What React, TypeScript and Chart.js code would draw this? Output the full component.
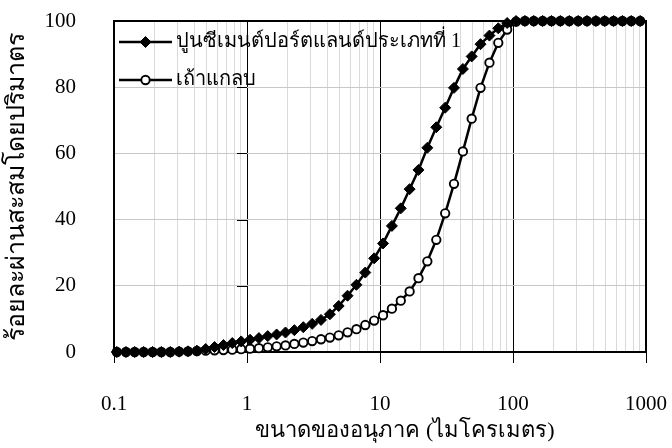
import React, { useEffect, useRef } from "react";
import { Chart, registerables } from "chart.js";

Chart.register(...registerables);

// particle sizes (µm)
const sizes = [
  0.105, 0.123, 0.143, 0.167, 0.195, 0.227, 0.265, 0.309, 0.36, 0.42,
  0.489, 0.57, 0.665, 0.775, 0.904, 1.054, 1.229, 1.433, 1.67, 1.947,
  2.27, 2.65, 3.09, 3.6, 4.2, 4.89, 5.7, 6.65, 7.75, 9.04,
  10.54, 12.29, 14.33, 16.7, 19.47, 22.7, 26.5, 30.9, 36.0, 42.0,
  48.9, 57.0, 66.5, 77.5, 90.4, 105.4, 122.9, 143.3, 167.0, 194.7,
  227, 265, 309, 360, 420, 489, 570, 665, 775, 904,
];

// cumulative % passing — Portland cement type 1
const cement = [
  0, 0, 0, 0, 0, 0, 0, 0.1, 0.2, 0.4,
  0.9, 1.5, 2.1, 2.7, 3.2, 3.7, 4.2, 4.8, 5.3, 5.9,
  6.6, 7.5, 8.5, 9.7, 11.4, 13.9, 17.0, 20.3, 24.0, 28.3,
  32.8, 38.1, 43.4, 49.2, 55.0, 61.7, 67.9, 73.8, 79.8, 85.5,
  89.3, 93.0, 95.6, 97.8, 99.4, 100, 100, 100, 100, 100,
  100, 100, 100, 100, 100, 100, 100, 100, 100, 100,
];

// cumulative % passing — rice husk ash
const ash = [
  0, 0, 0, 0, 0, 0, 0, 0.1, 0.2, 0.3,
  0.4, 0.5, 0.6, 0.7, 0.85, 1.0, 1.15, 1.4, 1.7, 2.0,
  2.45, 2.85, 3.3, 3.85, 4.35, 5.05, 5.95, 6.9, 8.15, 9.5,
  11.1, 13.1, 15.5, 18.3, 22.3, 27.4, 33.9, 41.9, 50.8, 60.6,
  70.5, 79.8, 87.4, 93.4, 97.4, 99.8, 100, 100, 100, 100,
  100, 100, 100, 100, 100, 100, 100, 100, 100, 100,
];

const seriesNames = ["ปูนซีเมนต์ปอร์ตแลนด์ประเภทที่ 1", "เถ้าแกลบ"];
const xDecades = [0.1, 1, 10, 100, 1000];
const yTickValues = [0, 20, 40, 60, 80, 100];
const xTitle = "ขนาดของอนุภาค (ไมโครเมตร)";
const yTitle = "ร้อยละผ่านสะสมโดยปริมาตร";

const FONT = "'Liberation Serif', 'Times New Roman', serif";

const isDecade = (v: number) => {
  const l = Math.log10(v);
  return Math.abs(l - Math.round(l)) < 1e-6;
};

const zeroPad = (s: any) => {
  s.paddingTop = 0;
  s.paddingBottom = 0;
  s.paddingLeft = 0;
  s.paddingRight = 0;
};

const frame = {
  id: "frame",
  beforeDatasetsDraw(chart: any) {
    const { ctx, chartArea: a, scales } = chart;
    ctx.save();
    // y-axis ticks crossing at x = 1
    const xc = scales.x.getPixelForValue(1);
    ctx.strokeStyle = "#000";
    ctx.lineWidth = 1;
    for (const v of yTickValues) {
      const y = Math.round(scales.y.getPixelForValue(v)) + 0.5;
      ctx.beginPath();
      ctx.moveTo(xc - 10, y);
      ctx.lineTo(xc, y);
      ctx.stroke();
    }
    ctx.lineWidth = 2;
    ctx.strokeRect(a.left, a.top, a.right - a.left, a.bottom - a.top);
    ctx.restore();
  },
  afterDatasetsDraw(chart: any) {
    const { ctx, chartArea: a } = chart;
    ctx.save();
    const x0 = a.left + 5;
    const x1 = a.left + 58;
    const xm = (x0 + x1) / 2;
    const rows = [a.top + 21, a.top + 59];
    chart.data.datasets.forEach((ds: any, i: number) => {
      const y = rows[i];
      ctx.strokeStyle = "#000";
      ctx.lineWidth = 2.5;
      ctx.beginPath();
      ctx.moveTo(x0, y);
      ctx.lineTo(x1, y);
      ctx.stroke();
      ctx.lineWidth = ds.pointBorderWidth;
      ctx.fillStyle = ds.pointBackgroundColor;
      ctx.beginPath();
      const r = ds.pointRadius;
      if (ds.pointStyle === "rectRot") {
        ctx.moveTo(xm, y - r);
        ctx.lineTo(xm + r, y);
        ctx.lineTo(xm, y + r);
        ctx.lineTo(xm - r, y);
        ctx.closePath();
      } else {
        ctx.arc(xm, y, r, 0, Math.PI * 2);
      }
      ctx.fill();
      ctx.stroke();
      ctx.fillStyle = "#000";
      ctx.font = `20px ${FONT}`;
      ctx.textBaseline = "middle";
      ctx.textAlign = "left";
      ctx.fillText(ds.label, x1 + 4, y);
    });
    // x-axis title
    ctx.font = `22px ${FONT}`;
    ctx.textAlign = "center";
    ctx.textBaseline = "middle";
    ctx.fillText(xTitle, (a.left + a.right) / 2 + 25, chart.height - 17);
    ctx.restore();
  },
};

export default function App() {
  const ref = useRef<HTMLCanvasElement | null>(null);
  useEffect(() => {
    document.body.style.margin = "0";
    if (!ref.current) return;
    const toPts = (ys: number[]) => sizes.map((x, i) => ({ x, y: ys[i] }));
    const chart = new Chart(ref.current, {
      type: "line",
      data: {
        datasets: [
          {
            label: seriesNames[0],
            data: toPts(cement),
            borderColor: "#000",
            borderWidth: 2.5,
            pointStyle: "rectRot",
            pointRadius: 5.5,
            pointBackgroundColor: "#000",
            pointBorderColor: "#000",
            pointBorderWidth: 1,
            tension: 0,
            clip: false,
          } as any,
          {
            label: seriesNames[1],
            data: toPts(ash),
            borderColor: "#000",
            borderWidth: 2.5,
            pointStyle: "circle",
            pointRadius: 4.2,
            pointBackgroundColor: "#fff",
            pointBorderColor: "#000",
            pointBorderWidth: 1.9,
            tension: 0,
            clip: false,
          } as any,
        ],
      },
      options: {
        animation: false,
        responsive: false,
        devicePixelRatio: 1,
        layout: { padding: { top: 21, right: 26, left: 0, bottom: 0 } },
        plugins: { legend: { display: false }, tooltip: { enabled: false } },
        scales: {
          x: {
            type: "logarithmic",
            min: 0.1,
            max: 1000,
            afterBuildTicks: (s: any) => {
              const t: any[] = [];
              for (let d = 0; d < xDecades.length - 1; d++) {
                for (let m = 1; m <= 9; m++) t.push({ value: +(xDecades[d] * m).toPrecision(6) });
              }
              t.push({ value: xDecades[xDecades.length - 1] });
              s.ticks = t;
            },
            afterFit: (s: any) => {
              s.height = 96;
              zeroPad(s);
            },
            ticks: {
              autoSkip: false,
              maxRotation: 0,
              padding: 29,
              color: "#000",
              font: { family: FONT, size: 21 },
              callback: (v: any) => (isDecade(Number(v)) ? String(Number(v)) : ""),
            },
            grid: {
              color: (c: any) => (c.tick && isDecade(c.tick.value) ? "#000" : "#d9d9d9"),
              lineWidth: 1,
              drawTicks: true,
              tickLength: 11,
              tickColor: (c: any) => (c.tick && isDecade(c.tick.value) ? "#000" : "rgba(0,0,0,0)"),
            },
            border: { display: false },
            title: { display: false },
          },
          y: {
            min: 0,
            max: 100,
            afterBuildTicks: (s: any) => {
              s.ticks = yTickValues.map((v) => ({ value: v }));
            },
            afterFit: (s: any) => {
              s.width = 114;
              zeroPad(s);
            },
            ticks: {
              padding: 38,
              color: "#000",
              font: { family: FONT, size: 21 },
            },
            grid: {
              color: "#c8c8c8",
              lineWidth: 1,
              drawTicks: false,
            },
            border: { display: false },
            title: {
              display: true,
              text: yTitle,
              color: "#000",
              font: { family: FONT, size: 25 },
              padding: { top: 2, bottom: 0 },
            },
          },
        },
      },
      plugins: [frame],
    });
    return () => chart.destroy();
  }, []);
  return (
    <div style={{ position: "absolute", left: 0, top: 0, width: 672, height: 448, background: "#fff" }}>
      <canvas ref={ref} width={672} height={448} />
    </div>
  );
}
